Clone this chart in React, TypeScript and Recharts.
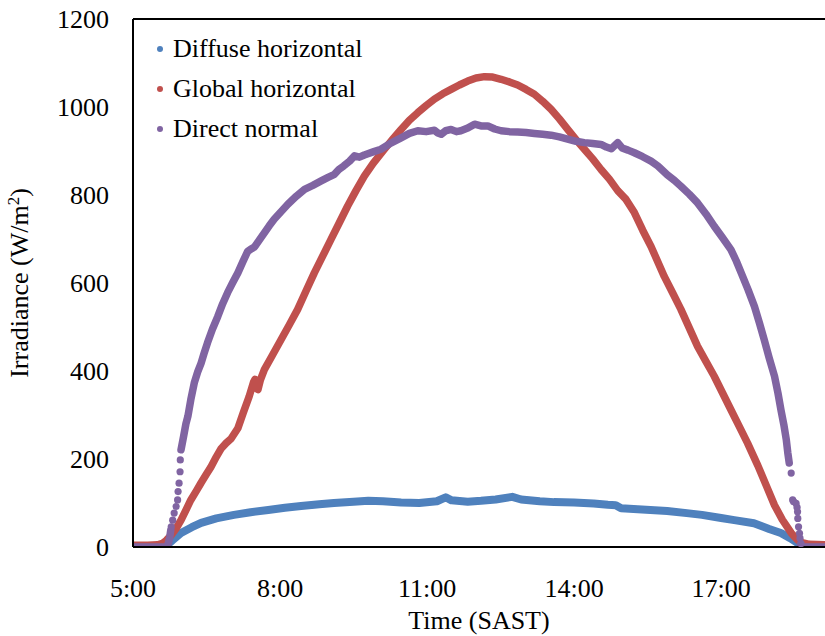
import React from 'react';
import {
  ComposedChart,
  Line,
  Scatter,
  XAxis,
  YAxis,
  Legend,
  ReferenceLine,
} from 'recharts';

const FONT = "'Liberation Serif', 'Times New Roman', serif";

// Time in decimal hours (SAST), irradiance in W/m²
const xTicks = [5, 8, 11, 14, 17];
const yTicks = [0, 200, 400, 600, 800, 1000, 1200];
const seriesNames = ['Diffuse horizontal', 'Global horizontal', 'Direct normal'];

const diffuse: [number, number][] = [
  [5.0, 0], [5.6, 0], [5.67, 2], [5.8, 15], [5.98, 32], [6.2, 45], [6.39, 55], [6.7, 65],
  [7.06, 73], [7.4, 79], [7.76, 84], [8.1, 89], [8.43, 93], [8.8, 97], [9.1, 100], [9.5, 103],
  [9.8, 105], [10.1, 104], [10.47, 101], [10.84, 100], [11.2, 104], [11.38, 113], [11.5, 106],
  [11.83, 103], [12.1, 105], [12.4, 108], [12.74, 114], [12.92, 108], [13.3, 104], [13.59, 102],
  [14.0, 101], [14.4, 99], [14.69, 96], [14.85, 95], [14.96, 88], [15.3, 86], [15.9, 82],
  [16.3, 77], [16.61, 73], [17.0, 66], [17.27, 61], [17.67, 54], [17.98, 41], [18.22, 32],
  [18.41, 20], [18.55, 10], [18.65, 4], [18.72, 0], [19.12, 0],
];

const globalHorizontal: [number, number][] = [
  [5.0, 4], [5.3, 4], [5.5, 5], [5.6, 8], [5.68, 15], [5.78, 27], [5.88, 42], [5.98, 61],
  [6.08, 84], [6.18, 107], [6.29, 127], [6.39, 146], [6.49, 164], [6.59, 182], [6.7, 205],
  [6.8, 224], [6.9, 236], [7.0, 246], [7.14, 270], [7.25, 305], [7.37, 342], [7.46, 375],
  [7.49, 381], [7.52, 360], [7.55, 358], [7.6, 380], [7.68, 403], [7.85, 437], [8.02, 471],
  [8.19, 505], [8.36, 540], [8.53, 582], [8.7, 623], [8.87, 661], [9.04, 699], [9.21, 737],
  [9.38, 775], [9.55, 810], [9.72, 843], [9.9, 872], [10.13, 904], [10.3, 927], [10.47, 949],
  [10.64, 970], [10.81, 987], [10.98, 1003], [11.15, 1018], [11.32, 1030], [11.49, 1040],
  [11.66, 1050], [11.83, 1059], [12.0, 1066], [12.17, 1069], [12.34, 1068], [12.51, 1063],
  [12.68, 1057], [12.85, 1050], [13.02, 1040], [13.19, 1029], [13.36, 1013], [13.53, 995],
  [13.7, 973], [13.87, 949], [14.04, 926], [14.21, 904], [14.38, 882], [14.55, 858],
  [14.72, 836], [14.89, 810], [15.06, 790], [15.23, 760], [15.4, 720], [15.57, 683],
  [15.84, 615], [16.01, 578], [16.18, 540], [16.35, 498], [16.52, 456], [16.69, 422],
  [16.86, 388], [17.03, 350], [17.2, 312], [17.37, 274], [17.54, 236], [17.75, 185],
  [17.92, 140], [18.09, 95], [18.25, 62], [18.43, 32], [18.55, 17], [18.65, 10], [18.8, 6],
  [19.12, 5],
];

// Dense part of the direct normal series (null = gap where the readings are sparse dots)
const directNormalLine: [number, number | null][] = [
  [5.0, 0], [5.68, 0], [5.72, 8], [5.75, 22], [5.77, 38], [5.79, null],
  [5.98, 221], [6.03, 250], [6.08, 280], [6.12, 297], [6.18, 335], [6.25, 373], [6.32, 398],
  [6.39, 418], [6.45, 440], [6.52, 464], [6.62, 495], [6.73, 524], [6.83, 553], [6.93, 578],
  [7.03, 600], [7.14, 623], [7.24, 648], [7.34, 672], [7.42, 678], [7.48, 682], [7.58, 698],
  [7.68, 714], [7.78, 730], [7.88, 745], [8.02, 762], [8.16, 779], [8.33, 797], [8.5, 813],
  [8.67, 822], [8.84, 832], [8.98, 840], [9.11, 847], [9.2, 858], [9.3, 866], [9.42, 877],
  [9.52, 889], [9.62, 886], [9.72, 891], [9.9, 898], [10.06, 904], [10.26, 918], [10.47, 930],
  [10.64, 940], [10.81, 946], [10.98, 944], [11.15, 947], [11.22, 941], [11.29, 938],
  [11.38, 946], [11.49, 949], [11.6, 944], [11.69, 946], [11.83, 952], [11.97, 961],
  [12.1, 957], [12.24, 957], [12.38, 950], [12.51, 946], [12.68, 944], [12.85, 943],
  [13.02, 942], [13.19, 940], [13.36, 938], [13.53, 936], [13.7, 932], [13.87, 927],
  [14.04, 922], [14.21, 919], [14.38, 917], [14.55, 915], [14.66, 909], [14.76, 905],
  [14.89, 919], [14.98, 907], [15.1, 902], [15.23, 896], [15.4, 887], [15.57, 877],
  [15.71, 866], [15.9, 846], [16.05, 833], [16.18, 820], [16.35, 802], [16.52, 782],
  [16.69, 757], [16.86, 729], [17.03, 703], [17.2, 676], [17.31, 650], [17.41, 623],
  [17.55, 585], [17.68, 547], [17.78, 510], [17.88, 471], [17.98, 430], [18.09, 388],
  [18.16, 350], [18.22, 312], [18.28, 278], [18.33, 244], [18.36, 215], [18.39, 191],
  [18.41, null], [18.62, 5], [18.64, 0], [19.12, 0],
];

// Sparse individual readings of direct normal at sunrise / sunset
const directNormalDots: [number, number][] = [
  [5.78, 46], [5.81, 61], [5.84, 77], [5.88, 92], [5.91, 107], [5.92, 126], [5.94, 145],
  [5.96, 171], [5.965, 198],
  [18.43, 168], [18.46, 107], [18.48, 103], [18.53, 99], [18.55, 90], [18.56, 80],
  [18.565, 65], [18.58, 46], [18.6, 31], [18.61, 20], [18.63, 8],
];

const COLORS = { diffuse: '#4F81BD', global: '#C0504D', direct: '#8064A2' };

const toRows = (arr: [number, number | null][]) => arr.map(([t, v]) => ({ t, v }));

const XTick = (props: any) => {
  const { x, y, payload } = props;
  return (
    <text x={x} y={y + 18} textAnchor="middle" fontFamily={FONT} fontSize={26} fill="#000">
      {`${payload.value}:00`}
    </text>
  );
};

const YTick = (props: any) => {
  const { x, y, payload } = props;
  return (
    <text x={x} y={y + 9} textAnchor="end" fontFamily={FONT} fontSize={26} fill="#000">
      {payload.value}
    </text>
  );
};

const YTitle = (props: any) => {
  const vb = props.viewBox || { y: 19, height: 528 };
  const cx = 28;
  const cy = vb.y + vb.height / 2;
  return (
    <text
      x={cx}
      y={cy}
      transform={`rotate(-90 ${cx} ${cy})`}
      textAnchor="middle"
      fontFamily={FONT}
      fontSize={26}
      fill="#000"
    >
      Irradiance (W/m
      <tspan dy={-9} fontSize={17}>2</tspan>
      <tspan dy={9}>)</tspan>
    </text>
  );
};

const XTitle = (props: any) => {
  const vb = props.viewBox || { x: 133, y: 547, width: 692 };
  return (
    <text
      x={vb.x + vb.width / 2}
      y={vb.y + 82}
      textAnchor="middle"
      fontFamily={FONT}
      fontSize={26}
      fill="#000"
    >
      Time (SAST)
    </text>
  );
};

const LegendContent = (props: any) => {
  const items = (props.payload || [])
    .filter((p: any) => seriesNames.includes(p.value))
    .sort((a: any, b: any) => seriesNames.indexOf(a.value) - seriesNames.indexOf(b.value));
  return (
    <div style={{ fontFamily: FONT, fontSize: 26, lineHeight: '40px', color: '#000' }}>
      {items.map((e: any) => (
        <div
          key={e.value}
          style={{ display: 'flex', alignItems: 'center', height: 40, whiteSpace: 'nowrap' }}
        >
          <span
            style={{
              display: 'inline-block',
              width: 6,
              height: 6,
              borderRadius: '50%',
              background: e.color,
              marginRight: 10,
            }}
          />
          <span>{e.value}</span>
        </div>
      ))}
    </div>
  );
};

const Dot = (color: string) => (p: any) =>
  p.cx == null || p.cy == null ? <g /> : <circle cx={p.cx} cy={p.cy} r={3.6} fill={color} />;

export default function App() {
  return (
    <div style={{ position: 'absolute', left: 0, top: 0, width: 825, height: 636, background: '#fff' }}>
      <ComposedChart width={825} height={636} margin={{ top: 19, right: 0, bottom: 0, left: 0 }}>
        <XAxis
          type="number"
          dataKey="t"
          domain={[5, 19.12]}
          allowDataOverflow
          ticks={xTicks}
          interval={0}
          tickLine={false}
          tickSize={0}
          tickMargin={32}
          height={89}
          axisLine={{ stroke: '#000', strokeWidth: 2 }}
          tick={<XTick />}
          label={<XTitle />}
        />
        <YAxis
          type="number"
          dataKey="v"
          domain={[0, 1200]}
          allowDataOverflow
          ticks={yTicks}
          interval={0}
          tickLine={false}
          tickSize={0}
          tickMargin={24}
          width={133}
          axisLine={{ stroke: '#000', strokeWidth: 2 }}
          tick={<YTick />}
          label={<YTitle />}
        />
        <ReferenceLine y={1200} stroke="#000" strokeWidth={2} />
        <Legend
          layout="vertical"
          align="center"
          verticalAlign="middle"
          content={<LegendContent />}
          wrapperStyle={{ left: 157, top: 29, width: 260, height: 120 }}
        />
        <Line
          name="Diffuse horizontal"
          data={toRows(diffuse)}
          dataKey="v"
          type="linear"
          stroke={COLORS.diffuse}
          strokeWidth={8}
          strokeLinecap="round"
          strokeLinejoin="round"
          dot={false}
          activeDot={false}
          isAnimationActive={false}
        />
        <Line
          name="Global horizontal"
          data={toRows(globalHorizontal)}
          dataKey="v"
          type="linear"
          stroke={COLORS.global}
          strokeWidth={7.5}
          strokeLinecap="round"
          strokeLinejoin="round"
          dot={false}
          activeDot={false}
          isAnimationActive={false}
        />
        <Line
          name="Direct normal"
          data={toRows(directNormalLine)}
          dataKey="v"
          type="linear"
          stroke={COLORS.direct}
          strokeWidth={7.5}
          strokeLinecap="round"
          strokeLinejoin="round"
          connectNulls={false}
          dot={false}
          activeDot={false}
          isAnimationActive={false}
        />
        <Scatter
          name="Direct normal (sparse)"
          data={toRows(directNormalDots)}
          dataKey="v"
          fill={COLORS.direct}
          legendType="none"
          shape={Dot(COLORS.direct)}
          isAnimationActive={false}
        />
      </ComposedChart>
    </div>
  );
}
